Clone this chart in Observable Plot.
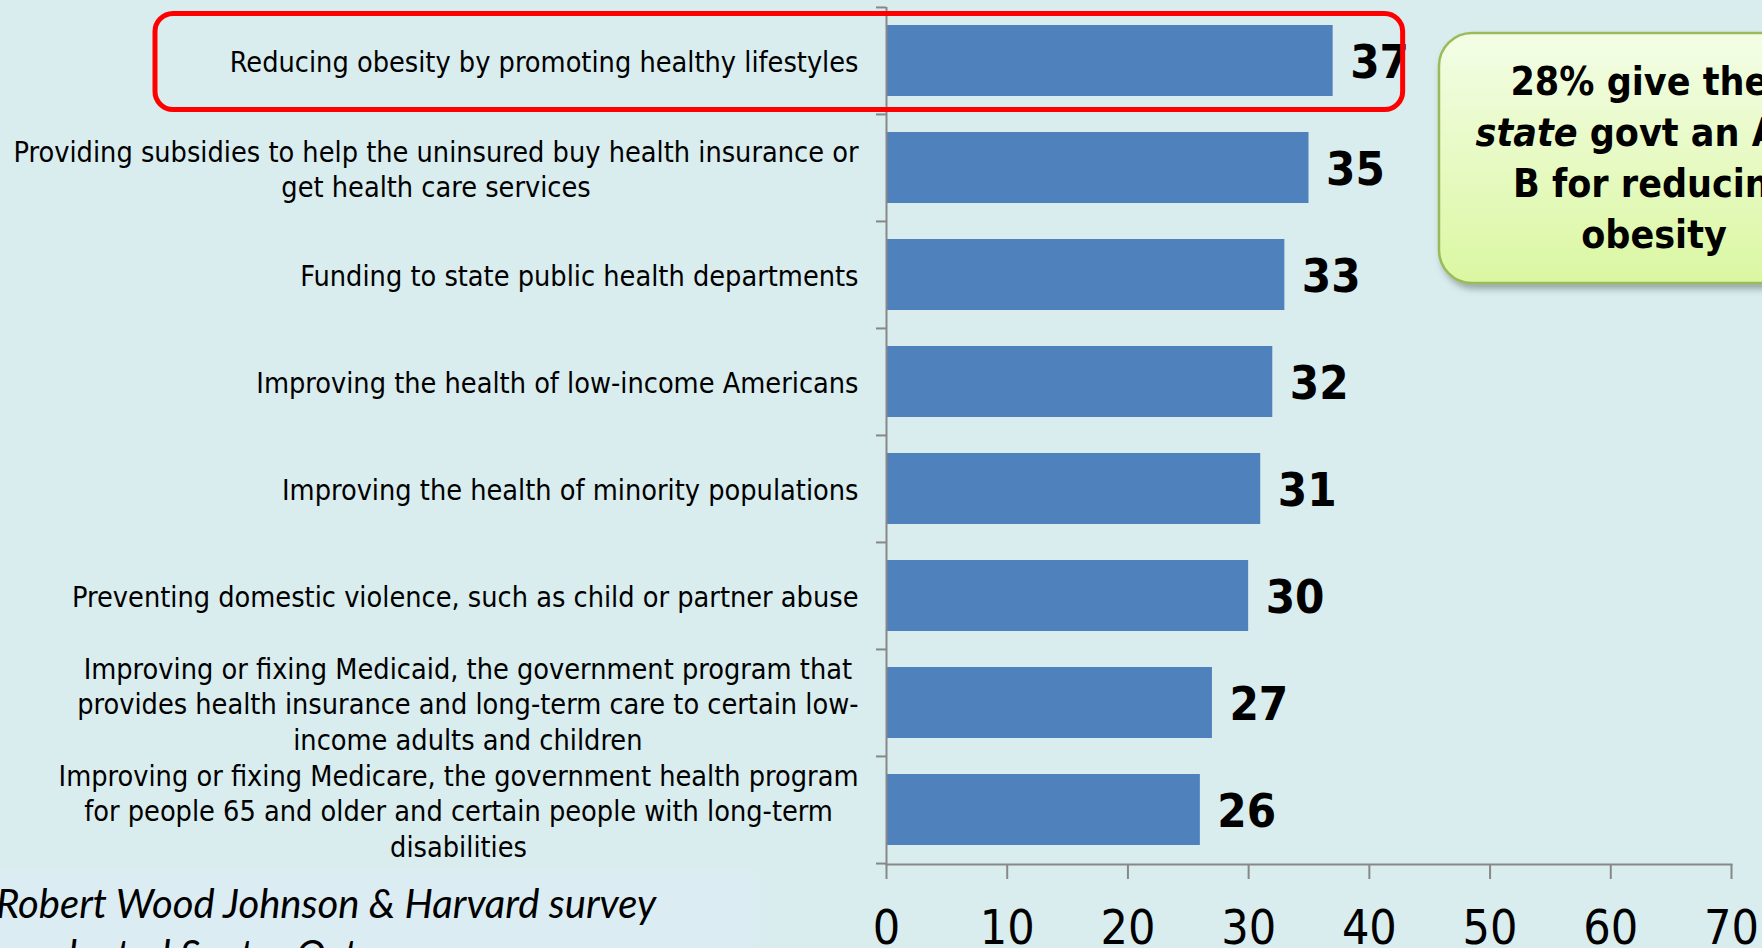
<!DOCTYPE html>
<html>
<head>
<meta charset="utf-8">
<script src="https://cdn.jsdelivr.net/npm/d3@7"></script>
<script src="https://cdn.jsdelivr.net/npm/@observablehq/plot@0.6"></script>
<style>
  html, body { margin: 0; padding: 0; background: #d9ecee; overflow: hidden; width: 1762px; height: 948px; }
  #chart { position: relative; width: 1762px; height: 948px; }
  #chart svg { display: block; }
</style>
</head>
<body>
<div id="chart"></div>
<script>
// ---- data ----
const categories = [
  "Reducing obesity by promoting healthy lifestyles",
  "Providing subsidies to help the uninsured buy health insurance or\nget health care services",
  "Funding to state public health departments",
  "Improving the health of low-income Americans",
  "Improving the health of minority populations",
  "Preventing domestic violence, such as child or partner abuse",
  "Improving or fixing Medicaid, the government program that\nprovides health insurance and long-term care to certain low-\nincome adults and children",
  "Improving or fixing Medicare, the government health program\nfor people 65 and older and certain people with long-term\ndisabilities"
];
const values = [37, 35, 33, 32, 31, 30, 27, 26];
const xTicks = [0, 10, 20, 30, 40, 50, 60, 70];
const highlight = categories[0];
const calloutLines = [
  [{t: "28% give their", i: false}],
  [{t: "state", i: true}, {t: " govt an A or", i: false}],
  [{t: "B for reducing", i: false}],
  [{t: "obesity", i: false}]
];
const footnoteLines = ["Robert Wood Johnson & Harvard survey", "conducted Sept – Oct"];

// ---- layout ----
const W = 1762, H = 948;
const mL = 886, mR = 31, mT = 7, mB = 84;
const step = (H - mT - mB) / categories.length;
const font = "DejaVu Sans Condensed";
const labelSize = 28.6;
const data = categories.map((c, i) => ({category: c, value: values[i]}));

const ctx = document.createElement("canvas").getContext("2d");
ctx.font = `${labelSize}px "${font}"`;
const maxW = c => Math.max(...c.split("\n").map(l => ctx.measureText(l).width));

const plot = Plot.plot({
  width: W,
  height: H,
  marginLeft: mL,
  marginRight: mR,
  marginTop: mT,
  marginBottom: mB,
  style: {background: "transparent", fontFamily: font, color: "#000", overflow: "visible"},
  x: {domain: [0, 70], ticks: xTicks},
  y: {domain: categories, paddingInner: 0.336, paddingOuter: 0.168},
  marks: [
    Plot.barX(data, {x: "value", y: "category", fill: "#4f81bd"}),
    Plot.ruleX([0], {stroke: "#888", strokeWidth: 2}),
    Plot.frame({anchor: "bottom", stroke: "#888", strokeWidth: 2}),
    Plot.axisY({ticks: categories, tickSize: 10, dy: -step / 2, tickFormat: () => "", label: null, stroke: "#888", strokeWidth: 2}),
    Plot.axisY({ticks: [categories[categories.length - 1]], tickSize: 10, dy: step / 2, tickFormat: () => "", label: null, stroke: "#888", strokeWidth: 2}),
    Plot.axisX({ticks: xTicks, tickSize: 15, tickPadding: 30, fontSize: 48, stroke: "#888", strokeWidth: 2, fill: "#000", label: null, tickFormat: d => String(d)}),
    Plot.text(data, {x: "value", y: "category", text: d => String(d.value), dx: 17, dy: 2, textAnchor: "start", fontSize: 47, fontWeight: "bold", fill: "#000"}),
    ...categories.map(c => Plot.text([c], {
      y: d => d, text: d => d, frameAnchor: "left", textAnchor: "middle",
      dx: -28 - maxW(c) / 2, fontSize: labelSize, lineHeight: 1.24, fill: "#000"
    }))
  ]
});

document.getElementById("chart").appendChild(plot);

// ---- annotations ----
const svg = d3.select(plot);
const ys = plot.scale("y"), xs = plot.scale("x");
const yc = ys.apply(highlight) + ys.bandwidth / 2;
const hv = values[categories.indexOf(highlight)];

const defs = svg.append("defs");
const grad = defs.append("linearGradient").attr("id", "calloutGrad").attr("x1", 0).attr("y1", 0).attr("x2", 0).attr("y2", 1);
grad.append("stop").attr("offset", "0%").attr("stop-color", "#f3fde6");
grad.append("stop").attr("offset", "100%").attr("stop-color", "#dbf7a2");
const flt = defs.append("filter").attr("id", "shadow").attr("x", "-10%").attr("y", "-10%").attr("width", "130%").attr("height", "130%");
flt.append("feDropShadow").attr("dx", 3).attr("dy", 5).attr("stdDeviation", 3).attr("flood-color", "#5a6a60").attr("flood-opacity", 0.5);

// footnote panel
svg.append("rect").attr("x", 0).attr("y", 868).attr("width", 753).attr("height", 80).attr("fill", "#dbedf3");
const fn = svg.append("text").attr("text-anchor", "start").attr("font-family", "Lato").attr("font-style", "italic").attr("font-size", 40).attr("fill", "#000");
footnoteLines.forEach((l, i) => fn.append("tspan").attr("x", -4).attr("y", 918 + i * 51).text(l));

// red highlight box
svg.append("rect")
  .attr("x", 155).attr("y", yc - 47)
  .attr("width", xs.apply(hv) + 70 - 155).attr("height", 96)
  .attr("rx", 18).attr("ry", 18)
  .attr("fill", "none").attr("stroke", "#ff0000").attr("stroke-width", 5);

// green callout
svg.append("rect")
  .attr("x", 1439).attr("y", 33).attr("width", 430).attr("height", 250)
  .attr("rx", 33).attr("ry", 33)
  .attr("fill", "url(#calloutGrad)").attr("stroke", "#9bbb59").attr("stroke-width", 2.5)
  .attr("filter", "url(#shadow)");
calloutLines.forEach((parts, i) => {
  const t = svg.append("text").attr("x", 1654).attr("y", 95 + i * 51)
    .attr("text-anchor", "middle").attr("font-family", font).attr("font-weight", "bold")
    .attr("font-size", 39).attr("fill", "#000");
  parts.forEach(p => t.append("tspan").attr("font-style", p.i ? "italic" : "normal").text(p.t));
});
</script>
</body>
</html>
